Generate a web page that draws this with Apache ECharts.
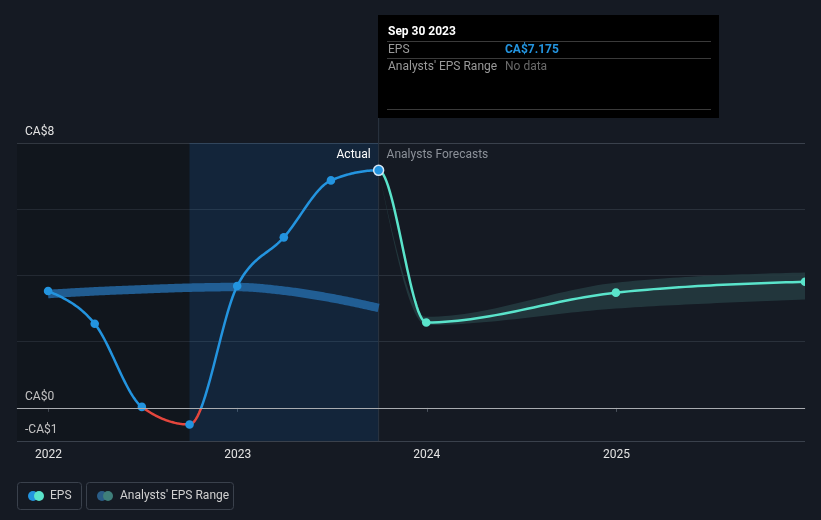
<!DOCTYPE html>
<html><head><meta charset="utf-8">
<script src="https://cdn.jsdelivr.net/npm/echarts@6/dist/echarts.min.js"></script>
<style>html,body{margin:0;padding:0;background:#151a23;}#c{width:821px;height:520px;}</style>
</head><body><div id="c"></div>
<script>
// ---- data ----
const actualDates = ['2021-12-31','2022-03-31','2022-06-30','2022-09-30','2022-12-31','2023-03-31','2023-06-30','2023-09-30'];
const actualEps = [3.53, 2.54, 0.03, -0.5, 3.68, 5.15, 6.87, 7.175];
const pastRangeMid = [3.44, 3.52, 3.58, 3.63, 3.65, 3.54, 3.32, 3.02];
const forecastDates = ['2023-09-30','2023-12-31','2024-12-31','2025-12-31'];
const forecastEps = [7.175, 2.58, 3.48, 3.81];
const forecastLow = [7.175, 2.5, 3.0, 3.27];
const forecastHigh = [7.175, 2.75, 3.78, 4.09];
const yLabels = {'8':'CA$8','0':'CA$0','-1':'-CA$1'};
const tooltipDate = 'Sep 30 2023';
const tooltipEps = 'CA$7.175';

const FONT = 'Roboto';
const BLUE = '#2394df', RED = '#e5463d', TEAL = '#5ae4cb';

const ts = s => { const p = s.split('-'); return new Date(+p[0], +p[1] - 1, +p[2]).getTime(); };
const chart = echarts.init(document.getElementById('c'));

const gridColors = ['#3a414c','#2a313b','transparent','#2a313b','transparent','#2a313b','transparent','#2a313b','transparent','#3a414c'];

// monotone cubic (monotoneX) helpers, working on pixel points from the axes
function tangents(P) {
  const n = P.length, m = new Array(n).fill(0);
  if (n < 2) return m;
  const sl = (a, b) => (P[b][1] - P[a][1]) / (P[b][0] - P[a][0]);
  if (n === 2) { m[0] = m[1] = sl(0, 1); return m; }
  const sgn = v => v < 0 ? -1 : 1;
  for (let i = 1; i < n - 1; i++) {
    const h0 = P[i][0] - P[i-1][0], h1 = P[i+1][0] - P[i][0];
    const s0 = sl(i-1, i), s1 = sl(i, i+1);
    const p = (s0 * h1 + s1 * h0) / (h0 + h1);
    m[i] = (sgn(s0) + sgn(s1)) * Math.min(Math.abs(s0), Math.abs(s1), 0.5 * Math.abs(p)) || 0;
  }
  m[0] = (3 * sl(0, 1) - m[1]) / 2;
  m[n-1] = (3 * sl(n-2, n-1) - m[n-2]) / 2;
  return m;
}
function curve(P, m, i0, i1) {
  const out = [P[i0].slice()];
  for (let i = i0; i < i1; i++) {
    const x0 = P[i][0], y0 = P[i][1], x1 = P[i+1][0], y1 = P[i+1][1], dx = (x1 - x0) / 3;
    const c1x = x0 + dx, c1y = y0 + dx * m[i], c2x = x1 - dx, c2y = y1 - dx * m[i+1];
    for (let k = 1; k <= 30; k++) {
      const t = k / 30, u = 1 - t;
      out.push([u*u*u*x0 + 3*u*u*t*c1x + 3*u*t*t*c2x + t*t*t*x1,
                u*u*u*y0 + 3*u*u*t*c1y + 3*u*t*t*c2y + t*t*t*y1]);
    }
  }
  return out;
}

function renderAll(params, api) {
  const pt = (d, v) => api.coord([ts(d), v]);
  const children = [];
  // past analysts range (thick band)
  const PR = actualDates.map((d, i) => pt(d, pastRangeMid[i]));
  children.push({type: 'polyline', shape: {points: curve(PR, tangents(PR), 0, PR.length - 1)},
    style: {stroke: '#2469a4', lineWidth: 8.5, opacity: 0.85, fill: null, lineCap: 'butt'}});
  // forecast range area
  const PH = forecastDates.map((d, i) => pt(d, forecastHigh[i]));
  const PL = forecastDates.map((d, i) => pt(d, forecastLow[i]));
  const up = curve(PH, tangents(PH), 0, PH.length - 1);
  const lo = curve(PL, tangents(PL), 0, PL.length - 1).reverse();
  children.push({type: 'polygon', shape: {points: up.concat(lo)}, style: {fill: '#243a3f', opacity: 0.9}});
  // EPS line: actual + forecast form one monotone curve
  const allD = actualDates.concat(forecastDates.slice(1));
  const allV = actualEps.concat(forecastEps.slice(1));
  const PE = allD.map((d, i) => pt(d, allV[i]));
  const mE = tangents(PE);
  const nA = actualDates.length;
  const y0 = api.coord([ts(actualDates[0]), 0])[1];
  const H = api.getHeight();
  const grad = new echarts.graphic.LinearGradient(0, 0, 0, H, [
    {offset: 0, color: BLUE}, {offset: y0 / H, color: BLUE}, {offset: y0 / H, color: RED}, {offset: 1, color: RED}], true);
  children.push({type: 'polyline', shape: {points: curve(PE, mE, nA - 1, PE.length - 1)},
    style: {stroke: TEAL, lineWidth: 2.5, fill: null}});
  children.push({type: 'polyline', shape: {points: curve(PE, mE, 0, nA - 1)},
    style: {stroke: grad, lineWidth: 2.5, fill: null}});
  // dots
  PE.forEach((p, i) => {
    if (i < nA - 1) children.push({type: 'circle', shape: {cx: p[0], cy: p[1], r: 4.3}, style: {fill: BLUE}});
    else if (i >= nA) children.push({type: 'circle', shape: {cx: p[0], cy: p[1], r: 4.3}, style: {fill: TEAL}});
  });
  const pl = PE[nA - 1];
  children.push({type: 'circle', shape: {cx: pl[0], cy: pl[1], r: 5}, style: {fill: BLUE, stroke: '#d8e8f5', lineWidth: 1.5}});
  return {type: 'group', children};
}

chart.setOption({
  backgroundColor: '#151a23',
  animation: false,
  textStyle: {fontFamily: FONT},
  grid: {left: 17, right: 16, top: 143, bottom: 79},
  xAxis: {
    type: 'time', min: ts('2021-11-01'), max: ts('2025-12-31'),
    minInterval: 365 * 86400000,
    axisLine: {show: true, lineStyle: {color: '#3a414c'}},
    axisTick: {show: true, length: 4, lineStyle: {color: '#4a515c'}},
    splitLine: {show: false},
    axisLabel: {color: '#e3e3e3', fontSize: 12, margin: 8, showMinLabel: false,
      formatter: v => { const d = new Date(v); return (d.getMonth() === 0 && d.getDate() === 1) ? String(d.getFullYear()) : ''; }}
  },
  yAxis: {
    type: 'value', min: -1, max: 8, interval: 1,
    axisLine: {show: false}, axisTick: {show: false},
    splitLine: {show: true, lineStyle: {color: gridColors, width: 1}},
    axisLabel: {inside: true, margin: 8, color: '#e3e3e3', fontSize: 12, verticalAlign: 'bottom', padding: [0,0,5,0],
      formatter: v => yLabels[String(v)] || ''}
  },
  series: [
    { // shading + zero line
      type: 'line', data: [], silent: true,
      markArea: {silent: true, data: [
        [{xAxis: ts('2021-11-01'), itemStyle: {color: 'rgba(0,0,0,0.15)'}}, {xAxis: ts('2022-09-30')}],
        [{xAxis: ts('2022-09-30'), itemStyle: {color: 'rgba(15,100,180,0.16)'}}, {xAxis: ts('2023-09-30')}]
      ]},
      markLine: {silent: true, symbol: 'none', label: {show: false},
        lineStyle: {color: '#a9acb0', width: 1.2, type: 'solid'}, data: [{yAxis: 0}]}
    },
    {
      type: 'custom', clip: true, silent: true, z: 3,
      data: [[ts(actualDates[0]), actualEps[0]]],
      renderItem: renderAll
    }
  ]
});

const xLast = chart.convertToPixel({xAxisIndex: 0}, ts('2023-09-30'));
const yTop = chart.convertToPixel({yAxisIndex: 0}, 8);
const txt = (x, y, t, o) => ({type: 'text', x, y, style: Object.assign({text: t, fill: '#e3e3e3', font: '12px ' + FONT, verticalAlign: 'middle'}, o || {})});
chart.setOption({
  graphic: [
    {type: 'line', shape: {x1: xLast, y1: 15, x2: xLast, y2: 441}, style: {stroke: '#2b3542', lineWidth: 1}, z: 1},
    {type: 'rect', shape: {x: 378, y: 15, width: 341, height: 103}, style: {fill: '#000000'}, z: 20},
    Object.assign(txt(388, 31.5, tooltipDate, {fill: '#ffffff', font: 'bold 12px ' + FONT}), {z: 21}),
    {type: 'line', shape: {x1: 387, y1: 41.5, x2: 711, y2: 41.5}, style: {stroke: '#3a3a3a', lineWidth: 1}, z: 21},
    Object.assign(txt(388, 49.5, 'EPS', {fill: '#9a9a9a'}), {z: 21}),
    Object.assign(txt(505, 49.5, tooltipEps, {fill: BLUE, font: 'bold 12px ' + FONT}), {z: 21}),
    {type: 'line', shape: {x1: 387, y1: 58.5, x2: 711, y2: 58.5}, style: {stroke: '#3a3a3a', lineWidth: 1}, z: 21},
    Object.assign(txt(388, 67, "Analysts' EPS Range", {fill: '#9a9a9a'}), {z: 21}),
    Object.assign(txt(505, 67, 'No data', {fill: '#6a6a6a'}), {z: 21}),
    {type: 'line', shape: {x1: 387, y1: 109.5, x2: 711, y2: 109.5}, style: {stroke: '#3a3a3a', lineWidth: 1}, z: 21},
    Object.assign(txt(xLast - 8, yTop + 12, 'Actual', {fill: '#ffffff', align: 'right'}), {z: 12}),
    Object.assign(txt(xLast + 8, yTop + 12, 'Analysts Forecasts', {fill: '#8c9199'}), {z: 12}),
    // legend
    {type: 'rect', shape: {x: 17.5, y: 482.5, width: 64, height: 27, r: 3}, style: {fill: 'transparent', stroke: '#3a414c', lineWidth: 1}},
    {type: 'circle', shape: {cx: 33, cy: 496, r: 5}, style: {fill: BLUE}},
    {type: 'circle', shape: {cx: 39, cy: 496, r: 5}, style: {fill: TEAL}},
    txt(50, 496, 'EPS', {fill: '#d0d0d0'}),
    {type: 'rect', shape: {x: 86.5, y: 482.5, width: 147, height: 27, r: 3}, style: {fill: 'transparent', stroke: '#3a414c', lineWidth: 1}},
    {type: 'circle', shape: {cx: 102, cy: 496, r: 5}, style: {fill: '#2a5d87'}},
    {type: 'circle', shape: {cx: 108, cy: 496, r: 5}, style: {fill: '#3f7f7a'}},
    txt(120, 496, "Analysts' EPS Range", {fill: '#d0d0d0'})
  ]
});
</script></body></html>
